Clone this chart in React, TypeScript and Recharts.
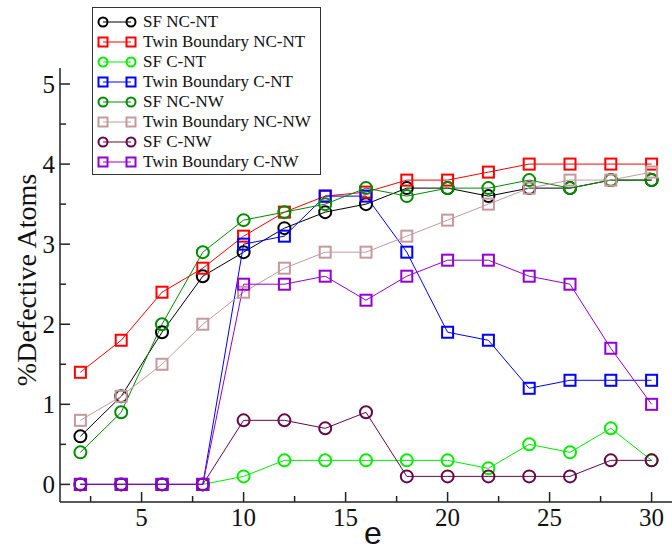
import React from "react";
import { LineChart, Line, XAxis, YAxis } from "recharts";

const eValues = [2, 4, 6, 8, 10, 12, 14, 16, 18, 20, 22, 24, 26, 28, 30];

const sfNcNt = [0.6, 1.1, 1.9, 2.6, 2.9, 3.2, 3.4, 3.5, 3.7, 3.7, 3.6, 3.7, 3.7, 3.8, 3.8];
const twinNcNt = [1.4, 1.8, 2.4, 2.7, 3.1, 3.4, 3.6, 3.65, 3.8, 3.8, 3.9, 4.0, 4.0, 4.0, 4.0];
const sfCNt = [0, 0, 0, 0, 0.1, 0.3, 0.3, 0.3, 0.3, 0.3, 0.2, 0.5, 0.4, 0.7, 0.3];
const twinCNt = [0, 0, 0, 0, 3.0, 3.1, 3.6, 3.6, 2.9, 1.9, 1.8, 1.2, 1.3, 1.3, 1.3];
const sfNcNw = [0.4, 0.9, 2.0, 2.9, 3.3, 3.4, 3.5, 3.7, 3.6, 3.7, 3.7, 3.8, 3.7, 3.8, 3.8];
const twinNcNw = [0.8, 1.1, 1.5, 2.0, 2.4, 2.7, 2.9, 2.9, 3.1, 3.3, 3.5, 3.7, 3.8, 3.8, 3.9];
const sfCNw = [0, 0, 0, 0, 0.8, 0.8, 0.7, 0.9, 0.1, 0.1, 0.1, 0.1, 0.1, 0.3, 0.3];
const twinCNw = [0, 0, 0, 0, 2.5, 2.5, 2.6, 2.3, 2.6, 2.8, 2.8, 2.6, 2.5, 1.7, 1.0];

const xTicks = [2.5, 5, 7.5, 10, 12.5, 15, 17.5, 20, 22.5, 25, 27.5, 30];
const yTicks = [0, 0.5, 1, 1.5, 2, 2.5, 3, 3.5, 4, 4.5, 5];

type Shape = "circle" | "square";

const series: { key: string; name: string; color: string; shape: Shape; values: number[] }[] = [
  { key: "sfNcNt", name: "SF NC-NT", color: "#000000", shape: "circle", values: sfNcNt },
  { key: "twinNcNt", name: "Twin Boundary NC-NT", color: "#ff0000", shape: "square", values: twinNcNt },
  { key: "sfCNt", name: "SF C-NT", color: "#00ee00", shape: "circle", values: sfCNt },
  { key: "twinCNt", name: "Twin Boundary C-NT", color: "#0000ff", shape: "square", values: twinCNt },
  { key: "sfNcNw", name: "SF NC-NW", color: "#008b00", shape: "circle", values: sfNcNw },
  { key: "twinNcNw", name: "Twin Boundary NC-NW", color: "#c49a9e", shape: "square", values: twinNcNw },
  { key: "sfCNw", name: "SF C-NW", color: "#670748", shape: "circle", values: sfCNw },
  { key: "twinCNw", name: "Twin Boundary C-NW", color: "#9400d3", shape: "square", values: twinCNw },
];

const data = eValues.map((e, i) => {
  const row: Record<string, number> = { e };
  series.forEach((s) => (row[s.key] = s.values[i]));
  return row;
});

const FRAME = "#222";
const SERIF = "'Liberation Serif', 'Times New Roman', serif";

function marker(shape: Shape, color: string, cx: number, cy: number, size: number, key?: string) {
  if (shape === "circle") {
    return <circle key={key} cx={cx} cy={cy} r={size / 2} fill="none" stroke={color} strokeWidth={2} />;
  }
  return (
    <rect key={key} x={cx - size / 2} y={cy - size / 2} width={size} height={size} fill="none" stroke={color} strokeWidth={2} />
  );
}

const BottomTick = (props: any) => {
  const { x, y, payload } = props;
  const major = payload.value % 5 === 0;
  return (
    <g>
      <line x1={x} y1={y} x2={x} y2={y - (major ? 10 : 6)} stroke={FRAME} strokeWidth={1.5} />
      {major && (
        <text x={x} y={y + 24} textAnchor="middle" fontFamily={SERIF} fontSize={25} fill="#111">
          {payload.value}
        </text>
      )}
    </g>
  );
};

const TopTick = (props: any) => {
  const { x, y, payload } = props;
  const major = payload.value % 5 === 0;
  return <line x1={x} y1={y} x2={x} y2={y + (major ? 10 : 6)} stroke={FRAME} strokeWidth={1.5} />;
};

const LeftTick = (props: any) => {
  const { x, y, payload } = props;
  const major = Number.isInteger(payload.value);
  return (
    <g>
      <line x1={x} y1={y} x2={x + (major ? 10 : 6)} y2={y} stroke={FRAME} strokeWidth={1.5} />
      {major && (
        <text x={x - 5} y={y + 8.5} textAnchor="end" fontFamily={SERIF} fontSize={25} fill="#111">
          {payload.value}
        </text>
      )}
    </g>
  );
};

const RightTick = (props: any) => {
  const { x, y, payload } = props;
  const major = Number.isInteger(payload.value);
  return <line x1={x} y1={y} x2={x - (major ? 10 : 6)} y2={y} stroke={FRAME} strokeWidth={1.5} />;
};

function Legend() {
  return (
    <div
      style={{
        position: "absolute",
        left: 92,
        top: 7,
        width: 229,
        height: 168,
        boxSizing: "border-box",
        border: "1px solid #333",
        background: "#fff",
        paddingTop: 4,
      }}
    >
      {series.map((s) => (
        <div key={s.key} style={{ display: "flex", alignItems: "center", height: 20 }}>
          <svg width={50} height={20} style={{ flex: "none" }}>
            <line x1={10} y1={10} x2={38} y2={10} stroke={s.color} strokeWidth={1} />
            {marker(s.shape, s.color, 10, 10, 9)}
            {marker(s.shape, s.color, 38, 10, 9)}
          </svg>
          <span style={{ fontFamily: SERIF, fontSize: 17, color: "#111", whiteSpace: "nowrap", lineHeight: "20px" }}>
            {s.name}
          </span>
        </div>
      ))}
    </div>
  );
}

export default function App() {
  return (
    <div style={{ position: "relative", width: 672, height: 552, background: "#fff" }}>
      <style>{`body{margin:0}`}</style>
      <LineChart width={672} height={552} data={data} margin={{ top: 68, right: 0, bottom: 0, left: 0 }}>
        <XAxis
          xAxisId="bottom"
          dataKey="e"
          type="number"
          domain={[1, 31]}
          ticks={xTicks}
          interval={0}
          height={50}
          tickSize={0}
          tickMargin={0}
          tickLine={false}
          axisLine={{ stroke: FRAME, strokeWidth: 1.5 }}
          tick={<BottomTick />}
          label={{
            value: "e",
            content: () => (
              <text x={373} y={544} textAnchor="middle" fontFamily="'Liberation Sans', Arial, sans-serif" fontSize={32} fill="#111">
                e
              </text>
            ),
          }}
        />
        <XAxis
          xAxisId="top"
          orientation="top"
          dataKey="e"
          type="number"
          domain={[1, 31]}
          ticks={xTicks}
          interval={0}
          height={0}
          tickSize={0}
          tickMargin={0}
          tickLine={false}
          axisLine={{ stroke: FRAME, strokeWidth: 1.5 }}
          tick={<TopTick />}
        />
        <YAxis
          yAxisId="left"
          type="number"
          domain={[-0.22, 5.2]}
          ticks={yTicks}
          interval={0}
          width={60}
          tickSize={0}
          tickMargin={0}
          tickLine={false}
          axisLine={{ stroke: FRAME, strokeWidth: 1.5 }}
          tick={<LeftTick />}
          allowDataOverflow
          label={{
            value: "%Defective Atoms",
            content: () => (
              <text x={36} y={280} transform="rotate(-90 36 280)" textAnchor="middle" fontFamily={SERIF} fontSize={28} fill="#111">
                %Defective Atoms
              </text>
            ),
          }}
        />
        <YAxis
          yAxisId="right"
          orientation="right"
          type="number"
          domain={[-0.22, 5.2]}
          ticks={yTicks}
          interval={0}
          width={0}
          tickSize={0}
          tickMargin={0}
          tickLine={false}
          axisLine={{ stroke: FRAME, strokeWidth: 1.5 }}
          tick={<RightTick />}
          allowDataOverflow
        />
        {series.map((s) => (
          <Line
            key={s.key}
            xAxisId="bottom"
            yAxisId="left"
            type="linear"
            dataKey={s.key}
            name={s.name}
            stroke={s.color}
            strokeWidth={1}
            isAnimationActive={false}
            dot={(p: any) => marker(s.shape, s.color, p.cx, p.cy, s.shape === "circle" ? 12 : 11, `${s.key}-${p.index}`)}
            activeDot={false}
          />
        ))}
      </LineChart>
      <Legend />
    </div>
  );
}
